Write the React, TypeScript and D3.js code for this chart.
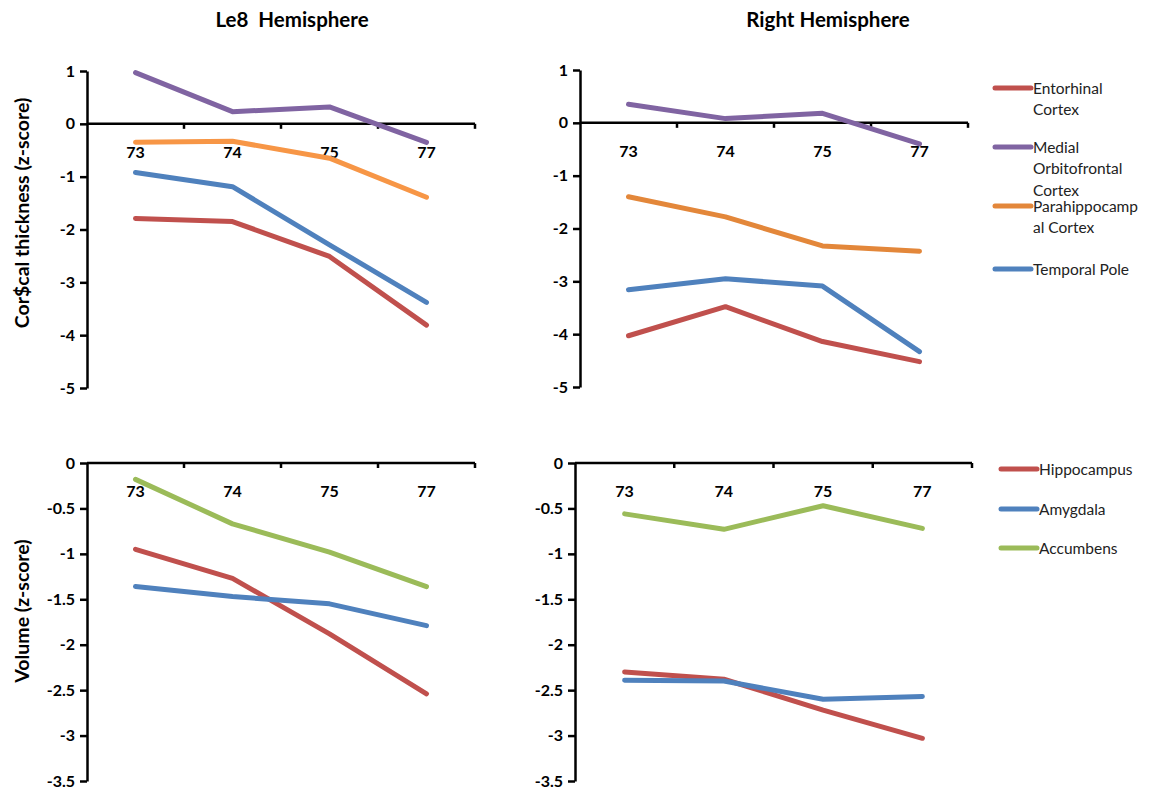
import * as d3 from "d3";
import { useRef, useEffect } from "react";

const categories = ["73", "74", "75", "77"];

// cortical thickness, left hemisphere
const entorhinalLeft = [-1.79, -1.85, -2.51, -3.81];
const medialOFCLeft = [0.97, 0.23, 0.32, -0.35];
const parahippoLeft = [-0.35, -0.33, -0.65, -1.39];
const temporalPoleLeft = [-0.92, -1.19, -2.29, -3.38];

// cortical thickness, right hemisphere
const entorhinalRight = [-4.03, -3.48, -4.14, -4.52];
const medialOFCRight = [0.35, 0.08, 0.18, -0.4];
const parahippoRight = [-1.4, -1.78, -2.33, -2.43];
const temporalPoleRight = [-3.16, -2.95, -3.09, -4.33];

// volume, left hemisphere
const hippocampusLeft = [-0.95, -1.27, -1.88, -2.54];
const amygdalaLeft = [-1.36, -1.47, -1.55, -1.79];
const accumbensLeft = [-0.18, -0.67, -0.98, -1.36];

// volume, right hemisphere
const hippocampusRight = [-2.3, -2.38, -2.72, -3.03];
const amygdalaRight = [-2.39, -2.4, -2.6, -2.57];
const accumbensRight = [-0.56, -0.73, -0.47, -0.72];

const thicknessTicks = [1, 0, -1, -2, -3, -4, -5];
const volumeTicks = [0, -0.5, -1, -1.5, -2, -2.5, -3, -3.5];

const thicknessLegend = [
  { lines: ["Entorhinal", "Cortex"], color: "#C0504D" },
  { lines: ["Medial", "Orbitofrontal", "Cortex"], color: "#8064A2" },
  { lines: ["Parahippocamp", "al Cortex"], color: "#E3873A" },
  { lines: ["Temporal Pole"], color: "#4F81BD" },
];
const volumeLegend = [
  { lines: ["Hippocampus"], color: "#C0504D" },
  { lines: ["Amygdala"], color: "#4F81BD" },
  { lines: ["Accumbens"], color: "#9BBB59" },
];

const FONT = "Lato, 'Open Sans', sans-serif";

type Series = { values: number[]; color: string };
type Panel = {
  x0: number; x1: number;
  yTop: number; yBottom: number;
  domain: [number, number];
  ticks: number[];
  series: Series[];
};

const panels: Panel[] = [
  {
    x0: 87, x1: 475, yTop: 71, yBottom: 388, domain: [1, -5], ticks: thicknessTicks,
    series: [
      { values: entorhinalLeft, color: "#C0504D" },
      { values: medialOFCLeft, color: "#8064A2" },
      { values: parahippoLeft, color: "#F79646" },
      { values: temporalPoleLeft, color: "#4F81BD" },
    ],
  },
  {
    x0: 580, x1: 968, yTop: 70, yBottom: 387, domain: [1, -5], ticks: thicknessTicks,
    series: [
      { values: entorhinalRight, color: "#C0504D" },
      { values: medialOFCRight, color: "#8064A2" },
      { values: parahippoRight, color: "#E3873A" },
      { values: temporalPoleRight, color: "#4F81BD" },
    ],
  },
  {
    x0: 87, x1: 475, yTop: 463, yBottom: 781, domain: [0, -3.5], ticks: volumeTicks,
    series: [
      { values: hippocampusLeft, color: "#C0504D" },
      { values: amygdalaLeft, color: "#4F81BD" },
      { values: accumbensLeft, color: "#9BBB59" },
    ],
  },
  {
    x0: 575, x1: 972, yTop: 463, yBottom: 781, domain: [0, -3.5], ticks: volumeTicks,
    series: [
      { values: hippocampusRight, color: "#C0504D" },
      { values: amygdalaRight, color: "#4F81BD" },
      { values: accumbensRight, color: "#9BBB59" },
    ],
  },
];

const App = () => {
  const chartRef = useRef<SVGSVGElement | null>(null);

  useEffect(() => {
    const svg = d3.select(chartRef.current);
    svg.selectAll("*").remove();
    svg.append("rect").attr("width", 1156).attr("height", 795).attr("fill", "#fff");

    panels.forEach((p) => {
      const x = d3.scaleBand<string>().domain(categories).range([p.x0, p.x1]);
      const y = d3.scaleLinear().domain(p.domain).range([p.yTop, p.yBottom]);
      const g = svg.append("g");

      // y axis
      const yAxis = d3.axisLeft(y)
        .tickValues(p.ticks)
        .tickSize(7)
        .tickSizeOuter(0)
        .tickPadding(5)
        .tickFormat((d) => String(d));
      const ya = g.append("g").attr("transform", `translate(${p.x0},0)`).call(yAxis);
      ya.select(".domain").attr("stroke", "#000").attr("stroke-width", 2.5);
      ya.selectAll(".tick line").attr("stroke", "#000").attr("stroke-width", 2.5);
      ya.selectAll(".tick text")
        .attr("font-family", FONT)
        .attr("font-weight", "bold")
        .attr("font-size", 16)
        .attr("fill", "#000");

      // x axis at zero
      const y0 = y(0);
      g.append("line")
        .attr("x1", p.x0).attr("x2", p.x1)
        .attr("y1", y0).attr("y2", y0)
        .attr("stroke", "#000").attr("stroke-width", 2.5);
      const edges = categories.map((c) => x(c) as number).slice(1).concat([p.x1]);
      g.selectAll(".xtick")
        .data(edges)
        .enter()
        .append("line")
        .attr("x1", (d) => d).attr("x2", (d) => d)
        .attr("y1", y0).attr("y2", y0 + 5)
        .attr("stroke", "#000").attr("stroke-width", 2.5);
      g.selectAll(".xlabel")
        .data(categories)
        .enter()
        .append("text")
        .attr("x", (d) => (x(d) as number) + x.bandwidth() / 2)
        .attr("y", y0 + 34)
        .attr("text-anchor", "middle")
        .attr("font-family", FONT)
        .attr("font-weight", "bold")
        .attr("font-size", 16)
        .text((d) => d);

      // lines
      const line = d3.line<number>()
        .x((_, i) => (x(categories[i]) as number) + x.bandwidth() / 2)
        .y((d) => y(d));
      p.series.forEach((s) => {
        g.append("path")
          .attr("d", line(s.values))
          .attr("fill", "none")
          .attr("stroke", s.color)
          .attr("stroke-width", 5)
          .attr("stroke-linejoin", "round")
          .attr("stroke-linecap", "round");
      });
    });

    // titles
    const titles = [
      { text: "Le8  Hemisphere", x: 292, y: 27 },
      { text: "Right Hemisphere", x: 828, y: 27 },
    ];
    svg.selectAll(".title")
      .data(titles)
      .enter()
      .append("text")
      .attr("x", (d) => d.x)
      .attr("y", (d) => d.y)
      .attr("text-anchor", "middle")
      .attr("font-family", FONT)
      .attr("font-weight", "bold")
      .attr("font-size", 20.5)
      .style("white-space", "pre")
      .text((d) => d.text);

    const yTitles = [
      { text: "Cor$cal thickness (z-score)", cy: 213 },
      { text: "Volume (z-score)", cy: 611 },
    ];
    svg.selectAll(".ytitle")
      .data(yTitles)
      .enter()
      .append("text")
      .attr("transform", (d) => `translate(29,${d.cy}) rotate(-90)`)
      .attr("text-anchor", "middle")
      .attr("font-family", FONT)
      .attr("font-weight", "bold")
      .attr("font-size", 19.5)
      .text((d) => d.text);

    // legends
    const drawLegend = (
      items: { lines: string[]; color: string }[],
      lx: number,
      starts: number[]
    ) => {
      items.forEach((it, i) => {
        const yy = starts[i];
        svg.append("line")
          .attr("x1", lx).attr("x2", lx + 36)
          .attr("y1", yy).attr("y2", yy)
          .attr("stroke", it.color).attr("stroke-width", 5)
          .attr("stroke-linecap", "round");
        it.lines.forEach((t, j) => {
          svg.append("text")
            .attr("x", lx + 38)
            .attr("y", yy + j * 21.5 + 5.5)
            .attr("font-family", FONT)
            .attr("font-size", 15.5)
            .attr("fill", "#222")
            .text(t);
        });
      });
    };
    drawLegend(thicknessLegend, 995, [88, 147, 206, 269]);
    drawLegend(volumeLegend, 1001, [469, 509, 548]);
  }, []);

  return (
    <svg
      ref={chartRef}
      width={1156}
      height={795}
      style={{ position: "absolute", left: 0, top: 0 }}
    ></svg>
  );
};

export default App;
